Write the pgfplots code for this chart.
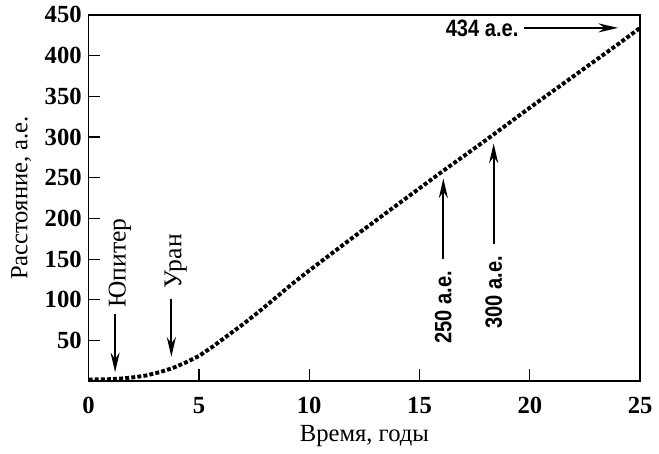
\documentclass[border=0pt]{standalone}
\usepackage{fontspec}
\setmainfont{Liberation Serif}
\newfontfamily\narrowfont[FakeStretch=0.85]{Liberation Sans}
\usepackage{pgfplots}
\pgfplotsset{compat=1.18}
\usetikzlibrary{arrows.meta}
\begin{document}
\begin{tikzpicture}
\begin{axis}[
  width=280pt, height=186pt, scale only axis,
  xmin=0, xmax=25, ymin=0, ymax=450,
  xtick={0,5,10,15,20,25},
  ytick={50,100,150,200,250,300,350,400,450},
  xtick pos=bottom, ytick pos=left,
  tick align=inside,
  major tick length=6pt,
  axis line style={line width=0.75pt},
  tick style={line width=0.6pt, black},
  tick label style={font=\fontsize{12.5}{14}\selectfont\bfseries},
  /pgf/number format/assume math mode=true,
  xlabel={Время, годы},
  ylabel={Расстояние, а.е.},
  label style={font=\fontsize{12.5}{14}\selectfont},
  xlabel style={yshift=1pt},
  ylabel style={yshift=0pt},
  xticklabel style={yshift=-4.5pt},
  clip=false,
]
\addplot[black, line width=2pt, dash pattern=on 2pt off 1.1pt] coordinates {
 (0,2) (1,2.5) (1.6,3.5) (2.1,5) (2.6,7) (3.2,11) (3.8,16) (4.4,23) (5,31) (5.6,42) (6.2,54) (7,70) (7.7,85) (8.5,103) (9.2,119) (10,136)
 (12,177) (14,217) (16,257) (18,296) (20,336) (22,375) (24,414) (25,434)
};
\tikzset{annarrow/.style={-{Stealth[length=10pt,width=4.6pt]}, line width=0.9pt}}
\draw[annarrow] (axis cs:1.2,82) -- (axis cs:1.2,11);
\draw[annarrow] (axis cs:3.75,101) -- (axis cs:3.75,30);
\draw[annarrow] (axis cs:16.08,150) -- (axis cs:16.08,249);
\draw[annarrow] (axis cs:18.36,168) -- (axis cs:18.36,292);
\draw[annarrow] (axis cs:19.75,434) -- (axis cs:24.0,434);
\node[rotate=90, anchor=west, font=\fontsize{13}{14}\selectfont, inner sep=0pt] at (axis cs:1.42,90) {Юпитер};
\node[rotate=90, anchor=west, font=\fontsize{13}{14}\selectfont, inner sep=0pt] at (axis cs:3.95,114) {Уран};
\node[rotate=90, font=\fontsize{12}{14}\selectfont\narrowfont\bfseries, inner sep=0pt] at (axis cs:16.08,91) {250 а.е.};
\node[rotate=90, font=\fontsize{12}{14}\selectfont\narrowfont\bfseries, inner sep=0pt] at (axis cs:18.36,109) {300 а.е.};
\node[anchor=east, font=\fontsize{12}{14}\selectfont\narrowfont\bfseries, inner sep=0pt] at (axis cs:19.5,434) {434 а.е.};
\path (rel axis cs:0,0.5) ++(-45pt,0) coordinate (padleft);
\end{axis}
\end{tikzpicture}
\end{document}
